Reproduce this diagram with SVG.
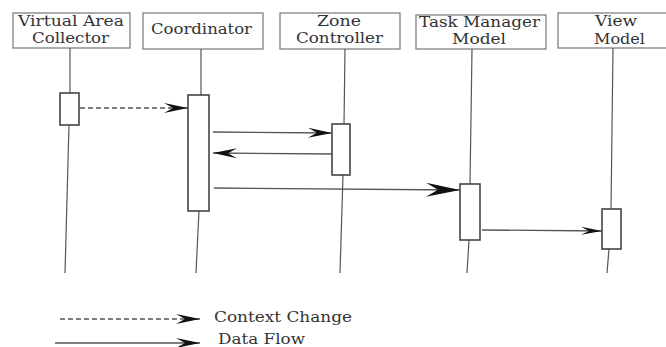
<svg xmlns="http://www.w3.org/2000/svg" width="666" height="347" viewBox="0 0 666 347">
<style>
.hdr{fill:#fff;stroke:#777;stroke-width:1.2}
.act{fill:#fff;stroke:#444;stroke-width:1.6}
.life{stroke:#555;stroke-width:1.2;fill:none}
.t{font-family:'DejaVu Serif','Liberation Serif',serif;font-size:15px;fill:#333}
.msg{stroke:#555;stroke-width:1.3;fill:none}
.dash{stroke-dasharray:5 3}
</style>
<defs>
<marker id="ah" markerUnits="userSpaceOnUse" viewBox="-25 -6 26 12" refX="0" refY="0" markerWidth="26" markerHeight="12" orient="auto">
<path d="M0,0 L-24,-5 L-15,0 L-24,5 Z" fill="#111"/>
</marker>
<marker id="ahb" markerUnits="userSpaceOnUse" viewBox="-36 -8 37 16" refX="0" refY="0" markerWidth="37" markerHeight="16" orient="auto">
<path d="M0,0 L-34,-7 L-22,0 L-34,7 Z" fill="#111"/>
</marker>
<marker id="ahs" markerUnits="userSpaceOnUse" viewBox="-22 -5 23 10" refX="0" refY="0" markerWidth="23" markerHeight="10" orient="auto">
<path d="M0,0 L-21,-4 L-13,0 L-21,4 Z" fill="#111"/>
</marker>
</defs>
<g id="vac">
<rect class="hdr" x="13" y="13" width="117" height="35"/>
<text class="t" x="18" y="26" textLength="106" lengthAdjust="spacingAndGlyphs">Virtual Area</text>
<text class="t" x="32" y="43" textLength="77" lengthAdjust="spacingAndGlyphs">Collector</text>
<line class="life" x1="70" y1="48" x2="70" y2="93"/>
<line class="life" x1="69" y1="125" x2="65" y2="273"/>
<rect class="act" x="60" y="93" width="19" height="32"/>
</g>
<g id="coordinator">
<rect class="hdr" x="143" y="13" width="120" height="36"/>
<text class="t" x="151" y="34" textLength="101" lengthAdjust="spacingAndGlyphs">Coordinator</text>
<line class="life" x1="201" y1="49" x2="201" y2="95"/>
<line class="life" x1="199" y1="211" x2="196" y2="273"/>
<rect class="act" x="188" y="95" width="21" height="116"/>
</g>
<g id="zone">
<rect class="hdr" x="280" y="13" width="120" height="36"/>
<text class="t" x="317" y="26" textLength="44" lengthAdjust="spacingAndGlyphs">Zone</text>
<text class="t" x="296" y="43" textLength="87" lengthAdjust="spacingAndGlyphs">Controller</text>
<line class="life" x1="345" y1="49" x2="344" y2="124"/>
<line class="life" x1="343" y1="175" x2="340" y2="273"/>
<rect class="act" x="332" y="124" width="18" height="51"/>
</g>
<g id="taskmanager">
<rect class="hdr" x="416" y="15" width="130" height="34"/>
<text class="t" x="419" y="27" textLength="121" lengthAdjust="spacingAndGlyphs">Task Manager</text>
<text class="t" x="452" y="44" textLength="54" lengthAdjust="spacingAndGlyphs">Model</text>
<line class="life" x1="472" y1="49" x2="470" y2="184"/>
<line class="life" x1="469" y1="240" x2="467" y2="273"/>
<rect class="act" x="460" y="184" width="20" height="56"/>
</g>
<g id="viewmodel">
<rect class="hdr" x="558" y="13" width="110" height="35"/>
<text class="t" x="595" y="26" textLength="42" lengthAdjust="spacingAndGlyphs">View</text>
<text class="t" x="594" y="44" textLength="51" lengthAdjust="spacingAndGlyphs">Model</text>
<line class="life" x1="613" y1="48" x2="611" y2="209"/>
<line class="life" x1="609" y1="249" x2="607" y2="273"/>
<rect class="act" x="602" y="209" width="19" height="40"/>
</g>
<g id="connectors">
<line class="msg dash" x1="80" y1="108" x2="188" y2="108" marker-end="url(#ah)"/>
<line class="msg" x1="213" y1="132" x2="332" y2="133" marker-end="url(#ah)"/>
<line class="msg" x1="332" y1="154" x2="213" y2="153" marker-end="url(#ah)"/>
<line class="msg" x1="214" y1="188" x2="460" y2="190" marker-end="url(#ahb)"/>
<line class="msg" x1="482" y1="230" x2="602" y2="231" marker-end="url(#ahs)"/>
</g>
<g id="legend">
<line class="msg dash" x1="60" y1="319" x2="200" y2="319" marker-end="url(#ah)"/>
<text class="t" x="214" y="322" textLength="138" lengthAdjust="spacingAndGlyphs">Context Change</text>
<line class="msg" x1="55" y1="343" x2="200" y2="343" marker-end="url(#ah)"/>
<text class="t" x="218" y="344" textLength="87" lengthAdjust="spacingAndGlyphs">Data Flow</text>
</g>
</svg>
